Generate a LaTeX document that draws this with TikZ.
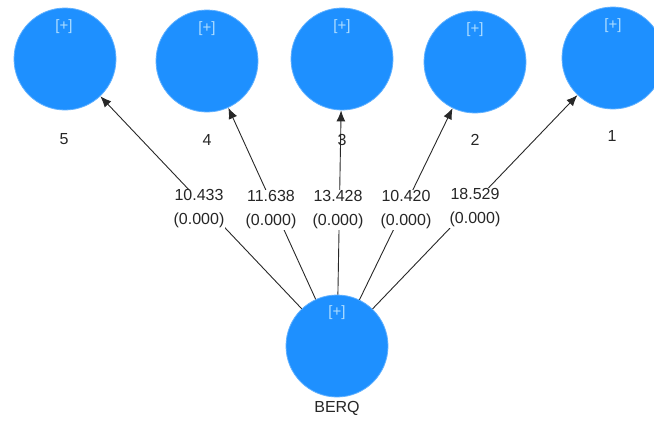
\documentclass[tikz,border=0pt]{standalone}
\usepackage{fontspec}
\setmainfont{Liberation Sans}
\usetikzlibrary{arrows.meta}
\definecolor{lvblue}{RGB}{30,144,255}
\definecolor{plusc}{RGB}{175,222,255}
\definecolor{edgec}{RGB}{40,40,40}
\begin{document}
\begin{tikzpicture}[x=1pt,y=-1pt,
  lv/.style={circle,fill=lvblue,draw=lvblue!70!white,line width=0.8pt,minimum size=102pt,inner sep=0pt},
  plus/.style={text=plusc,font=\fontsize{15}{17}\selectfont,inner sep=0pt},
  name lbl/.style={font=\fontsize{16}{18}\selectfont,inner sep=0pt,text=black!85},
  coef/.style={fill=white,align=center,font=\fontsize{16}{24}\selectfont,inner sep=1pt,text=black!85},
  path arrow/.style={draw=edgec,line width=0.9pt,-{Latex[length=11pt,width=9pt]}}]
\useasboundingbox (0,0) rectangle (654,421);
\clip (0,0) rectangle (654,421);
% outer latent variables
\node[lv] (c5) at (65,59) {};
\node[lv] (c4) at (207,61) {};
\node[lv] (c3) at (342,59) {};
\node[lv] (c2) at (475,62) {};
\node[lv] (c1) at (613,58) {};
\node[lv] (berq) at (337,346) {};
% [+] markers
\node[plus] (p5) at (64,27) {[+]};
\node[plus] (p4) at (207,29) {[+]};
\node[plus] (p3) at (342,27) {[+]};
\node[plus] (p2) at (475,30) {[+]};
\node[plus] (p1) at (613,26) {[+]};
\node[plus] (pb) at (337,313) {[+]};
% arrows
\draw[path arrow] (berq) -- (c5);
\draw[path arrow] (berq) -- (c4);
\draw[path arrow] (berq) -- (c3);
\draw[path arrow] (berq) -- (c2);
\draw[path arrow] (berq) -- (c1);
% names
\node[name lbl] (n5) at (64,139) {5};
\node[name lbl] (n4) at (207,140) {4};
\node[name lbl] (n3) at (342,140) {3};
\node[name lbl] (n2) at (475,140) {2};
\node[name lbl] (n1) at (612,136) {1};
\node[name lbl] (nb) at (337,408) {BERQ};
% coefficients
\node[coef] (e5) at (199,209) {10.433\\(0.000)};
\node[coef] (e4) at (271,210) {11.638\\(0.000)};
\node[coef] (e3) at (338,210) {13.428\\(0.000)};
\node[coef] (e2) at (406,210) {10.420\\(0.000)};
\node[coef] (e1) at (475,208) {18.529\\(0.000)};
\end{tikzpicture}
\end{document}
